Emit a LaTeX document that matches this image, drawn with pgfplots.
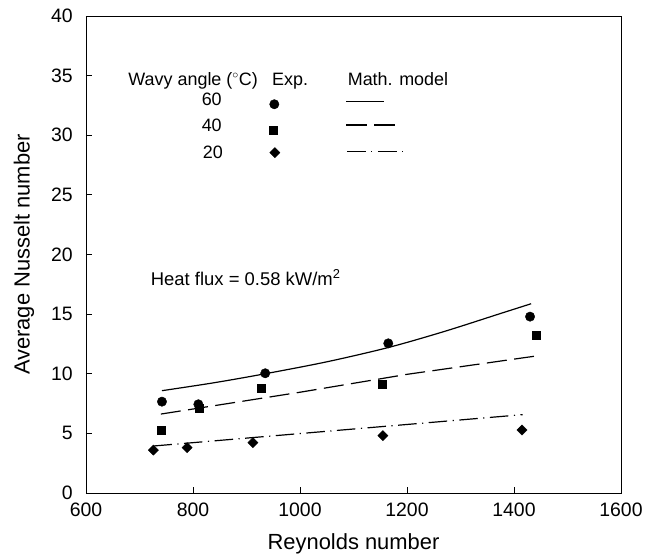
\documentclass[border=0pt]{standalone}
\usepackage{pgfplots}
\pgfplotsset{compat=1.18}
\usepackage{fontspec}
\setmainfont{Liberation Sans}
\begin{document}
\begin{tikzpicture}
\begin{axis}[
  at={(0,0)}, anchor=south west,
  scale only axis,
  width=535bp, height=477bp,
  xmin=600, xmax=1600, ymin=0, ymax=40,
  xtick={600,800,...,1600}, ytick={0,5,...,40},
  xtick pos=bottom, ytick pos=left,
  tick align=inside,
  major tick length=5.7bp,
  axis line style={line width=0.9bp},
  tick style={line width=0.8bp, black},
  /pgf/number format/assume math mode=true,
  /pgf/number format/1000 sep={},
  tick label style={font=\fontsize{19.5}{23}\selectfont},
  xticklabel style={inner sep=0pt, anchor=north, yshift=-10bp},
  yticklabel style={inner sep=0pt, anchor=east, xshift=-13bp},
  xlabel={Reynolds number},
  ylabel={Average Nusselt number},
  label style={font=\fontsize{22}{26}\selectfont},
  xlabel style={at={(axis description cs:0.5,-0.107)}, anchor=center},
  ylabel style={at={(axis description cs:-0.116,0.5)}, anchor=center},
  clip=false,
]
% Experimental data
\addplot[only marks, mark=*, mark size=4.7bp, black] coordinates {
  (742,7.66) (810,7.44) (935,10.04) (1165,12.55) (1430,14.79)};
\addplot[only marks, mark=square*, mark size=4bp, black] coordinates {
  (740,5.28) (812,7.10) (927,8.75) (1154,9.11) (1441,13.25)};
\addplot[only marks, mark=square*, mark size=3.6bp, mark options={rotate=45}, black] coordinates {
  (726,3.60) (789,3.80) (912,4.22) (1155,4.81) (1415,5.28)};
% Math model
\addplot[black, line width=1.2bp, smooth, no marks] coordinates {
  (742,8.58) (840,9.25) (935,10.0) (1050,11.0) (1165,12.2) (1270,13.55) (1376,15.07) (1432,15.87)};
\addplot[black, line width=1.2bp, no marks, dash pattern=on 20bp off 7.5bp] coordinates {
  (740,6.62) (1000,8.45) (1200,9.95) (1443,11.5)};
\addplot[black, line width=1.2bp, no marks, dash pattern=on 18.5bp off 5.5bp on 1.2bp off 5.5bp] coordinates {
  (726,3.94) (1416,6.57)};
% Legend
\addplot[only marks, mark=*, mark size=4.7bp, black, forget plot] coordinates {(952,32.6)};
\addplot[only marks, mark=square*, mark size=4bp, black, forget plot] coordinates {(950,30.44)};
\addplot[only marks, mark=square*, mark size=3.6bp, mark options={rotate=45}, black, forget plot] coordinates {(953,28.54)};
\addplot[black, line width=1.2bp, no marks, forget plot] coordinates {(1086,32.81) (1157,32.81)};
\addplot[black, line width=1.2bp, no marks, forget plot, dash pattern=on 20.7bp off 7.7bp] coordinates {(1086,30.86) (1179,30.86)};
\addplot[black, line width=1.2bp, no marks, forget plot, dash pattern=on 18.7bp off 5.5bp on 1.2bp off 5.5bp] coordinates {(1088,28.62) (1192,28.62)};
\node[anchor=base west, inner sep=0pt, font=\fontsize{18}{22}\selectfont] at (axis cs:679,34.2) {Wavy angle ($^{\circ}$C)};
\node[anchor=base west, inner sep=0pt, font=\fontsize{18}{22}\selectfont] at (axis cs:947.7,34.2) {Exp.};
\node[anchor=base west, inner sep=0pt, font=\fontsize{18}{22}\selectfont] at (axis cs:1089,34.2) {Math. model};
\node[anchor=base, inner sep=0pt, font=\fontsize{18}{22}\selectfont] at (axis cs:835,32.48) {60};
\node[anchor=base, inner sep=0pt, font=\fontsize{18}{22}\selectfont] at (axis cs:835,30.3) {40};
\node[anchor=base, inner sep=0pt, font=\fontsize{18}{22}\selectfont] at (axis cs:837,28.07) {20};
\node[anchor=base west, inner sep=0pt, font=\fontsize{18.5}{22}\selectfont] at (axis cs:721,17.44) {Heat flux = 0.58 kW/m\textsuperscript{2}};
\end{axis}
\pgfresetboundingbox
\path (-86bp,-65bp) rectangle (573bp,493bp);
\end{tikzpicture}
\end{document}
